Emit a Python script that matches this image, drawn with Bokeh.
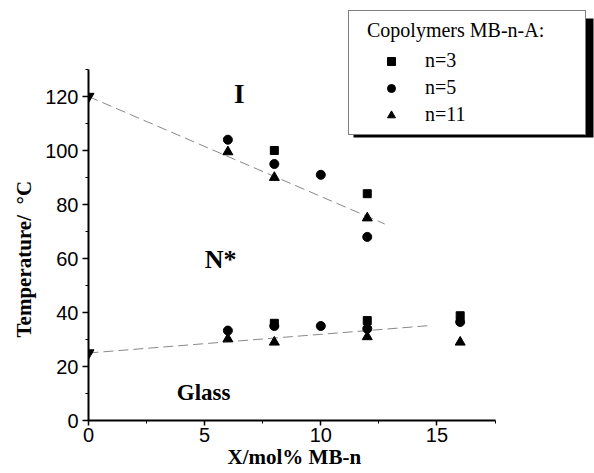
from bokeh.plotting import figure
from bokeh.models import (Range1d, FixedTicker, Legend, LegendItem, BoxAnnotation, Label, Title)
from bokeh.embed import file_html
from bokeh.resources import INLINE

# ---- data ----
# n=3 copolymers
n3_iso_x = [8, 12]
n3_iso_y = [100, 84]
n3_glass_x = [8, 12, 16]
n3_glass_y = [36, 37, 38.8]
# n=5 copolymers
n5_iso_x = [6, 8, 10, 12]
n5_iso_y = [104, 95, 91, 68]
n5_glass_x = [6, 8, 10, 12, 16]
n5_glass_y = [33.3, 35, 35, 34, 36.5]
# n=11 copolymers
n11_iso_x = [6, 8, 12]
n11_iso_y = [99.5, 90, 75]
n11_glass_x = [6, 8, 12, 16]
n11_glass_y = [30.2, 29, 31, 29]
# parent homopolymer (x = 0)
homo_x = [0, 0]
homo_y = [120, 25]
# guide lines
trend_iso_x = [0, 12.75]
trend_iso_y = [120, 72.8]
trend_glass_x = [0, 14.75]
trend_glass_y = [25, 35.2]

x_ticks = [0, 5, 10, 15]
y_ticks = [0, 20, 40, 60, 80, 100, 120]

W, H = 594, 473
LEFT, BOTTOM = 88, 53
X_PX = 23.23   # px per x unit
Y_PX = 2.7     # px per y unit
FRAME_W = W - LEFT
FRAME_H = H - BOTTOM

p = figure(width=W, height=H, output_backend="svg", toolbar_location=None,
           x_range=Range1d(0, FRAME_W / X_PX), y_range=Range1d(0, FRAME_H / Y_PX),
           min_border_left=LEFT, min_border_right=0, min_border_top=0,
           min_border_bottom=BOTTOM)
p.outline_line_color = None
p.grid.visible = False
p.background_fill_color = "white"
p.border_fill_color = "white"

for ax in (p.xaxis[0], p.yaxis[0]):
    ax.axis_line_width = 2
    ax.axis_line_color = "black"
    ax.major_tick_line_color = "black"
    ax.major_tick_line_width = 1.5
    ax.minor_tick_line_color = "black"
    ax.major_tick_in = 0
    ax.major_tick_out = 6
    ax.minor_tick_in = 0
    ax.minor_tick_out = 3
    ax.major_label_text_font = "Liberation Sans"
    ax.major_label_text_font_size = "20px"
    ax.major_label_text_color = "black"

p.xaxis[0].bounds = (0, 17.5)
p.xaxis[0].ticker = FixedTicker(ticks=x_ticks, minor_ticks=[2.5, 7.5, 12.5, 17.5])
p.xaxis[0].major_tick_out = 5
p.xaxis[0].major_label_standoff = 2

p.yaxis[0].bounds = (0, 130)
p.yaxis[0].ticker = FixedTicker(ticks=y_ticks, minor_ticks=[10, 30, 50, 70, 90, 110, 130])
p.yaxis[0].major_label_standoff = 4

def dx(px):
    return (px - LEFT) / X_PX
def dy(py):
    return (FRAME_H - py) / Y_PX

# axis titles, placed along the drawn axis extent as in the original
p.add_layout(Title(text="X/mol% MB-n", align="left", offset=139, vertical_align="top",
                   standoff=0, text_font="Liberation Serif", text_font_style="bold",
                   text_font_size="21px", text_color="black"), "below")
p.add_layout(Title(text="Temperature/\u00a0\u00a0\u00b0C", align="left", offset=83,
                   vertical_align="top", standoff=10, text_font="Liberation Serif",
                   text_font_style="bold", text_font_size="21px", text_color="black"), "left")

# guide lines
p.line(trend_iso_x, trend_iso_y, line_color="#888888", line_width=1, line_dash="10 5")
p.line(trend_glass_x, trend_glass_y, line_color="#888888", line_width=1, line_dash="10 5")

# data
sq1 = p.scatter(n3_iso_x, n3_iso_y, marker="square", size=8, color="black")
p.scatter(n3_glass_x, n3_glass_y, marker="square", size=8, color="black")
ci1 = p.scatter(n5_iso_x, n5_iso_y, marker="circle", size=9, color="black")
p.scatter(n5_glass_x, n5_glass_y, marker="circle", size=9, color="black")
tr1 = p.scatter(n11_iso_x, n11_iso_y, marker="triangle", size=10, color="black")
p.scatter(n11_glass_x, n11_glass_y, marker="triangle", size=10, color="black")
p.scatter(homo_x, homo_y, marker="inverted_triangle", size=11, color="black")

# region labels
lab_kw = dict(text_font="Liberation Serif", text_font_style="bold", text_color="black",
              text_baseline="alphabetic")
p.add_layout(Label(x=6.49, y=121, text="I", text_font_size="27px", text_align="center", **lab_kw))
p.add_layout(Label(x=5.0, y=59.5, text="N*", text_font_size="26px", text_align="left", **lab_kw))
p.add_layout(Label(x=3.8, y=10.4, text="Glass", text_font_size="23px", text_align="left", **lab_kw))

# legend shadow (pixel box converted to data units)
p.add_layout(BoxAnnotation(left=dx(353), right=dx(593), top=dy(18), bottom=dy(137),
                           fill_color="black", fill_alpha=1, line_color=None, level="overlay"))

legend = Legend(items=[LegendItem(label="n=3", renderers=[sq1]),
                       LegendItem(label="n=5", renderers=[ci1]),
                       LegendItem(label="n=11", renderers=[tr1])],
                title="\u00a0\u00a0Copolymers MB-n-A:",
                location=(260, FRAME_H - 135),
                orientation="vertical",
                title_text_font="Liberation Serif", title_text_font_size="20px",
                title_text_font_style="normal", title_text_color="black",
                title_standoff=7,
                label_text_font="Liberation Serif", label_text_font_size="20px",
                label_text_color="black",
                glyph_width=68, glyph_height=20, label_height=20, label_width=152,
                label_standoff=0, spacing=4, padding=8, margin=0,
                border_line_color="black", border_line_width=1.5,
                background_fill_color="white", background_fill_alpha=1)
p.add_layout(legend, "center")

open("out.html", "w").write(file_html(p, INLINE))
